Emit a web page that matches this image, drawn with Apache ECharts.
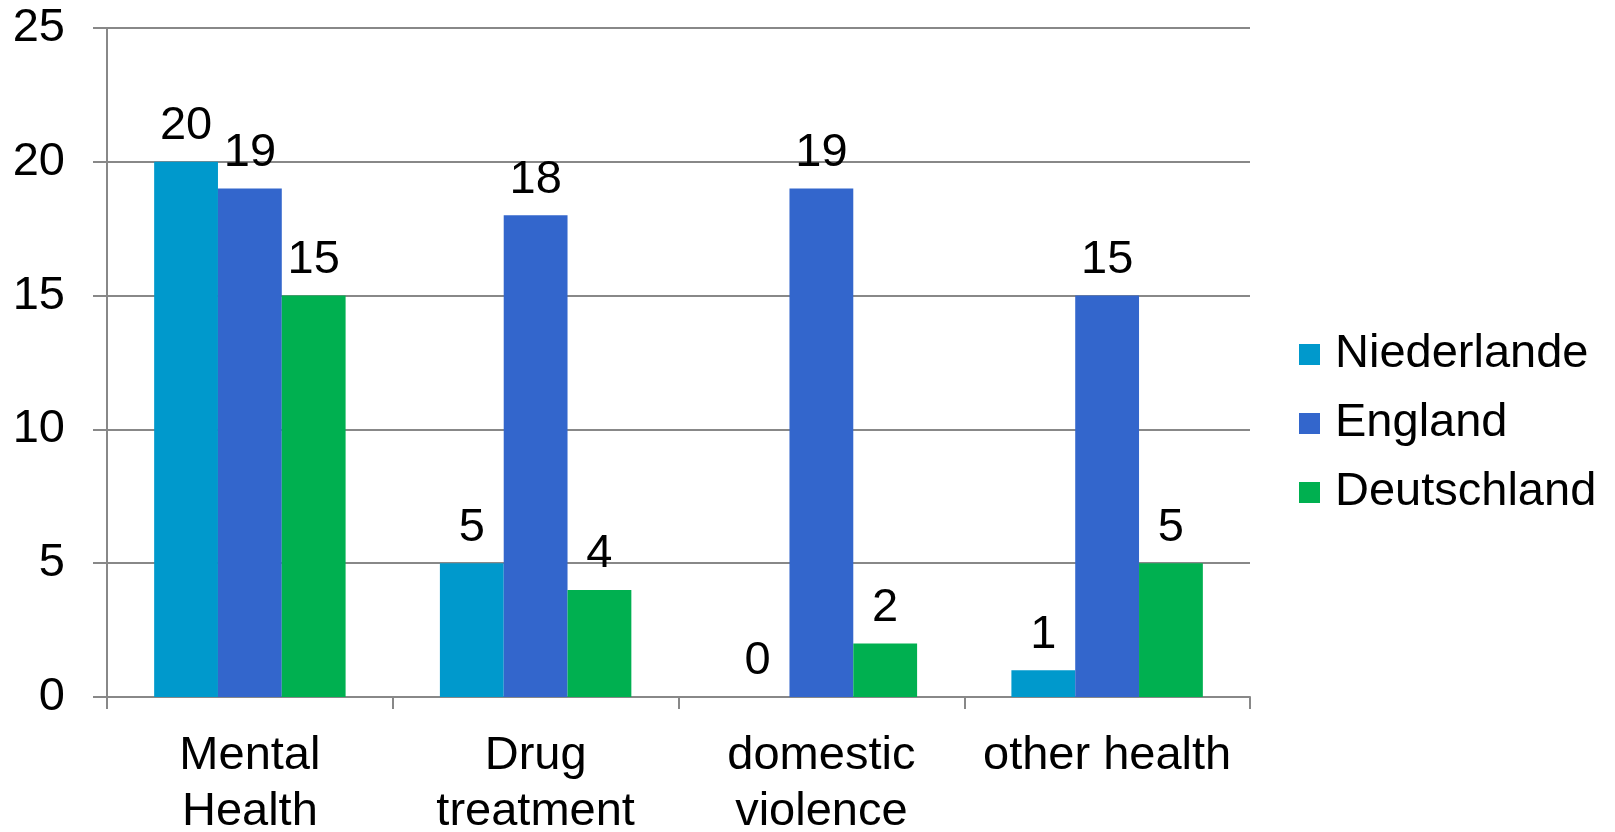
<!DOCTYPE html>
<html>
<head>
<meta charset="utf-8">
<style>
  html, body { margin: 0; padding: 0; background: #fff; }
  #chart { width: 1615px; height: 832px; }
</style>
<script src="https://cdn.jsdelivr.net/npm/echarts@6/dist/echarts.min.js"></script>
</head>
<body>
<div id="chart"></div>
<script>
var categories = ['Mental Health', 'Drug treatment', 'domestic violence', 'other health'];
var seriesNames = ['Niederlande', 'England', 'Deutschland'];
var niederlande = [20, 5, 0, 1];
var england = [19, 18, 19, 15];
var deutschland = [15, 4, 2, 5];
var yTicks = { min: 0, max: 25, interval: 5 };

var colors = ['#0099cc', '#3366cc', '#00b050'];
var font = "'Liberation Sans', Arial, sans-serif";
var gray = '#888888';

// labels wider than a category get wrapped at the space, lines stay centred
var measureCtx = document.createElement('canvas').getContext('2d');
measureCtx.font = '47px ' + font;
function wrapLabel(value) {
    if (measureCtx.measureText(value).width > 270) {
        return value.split(' ').join('\n');
    }
    return value;
}

var chart = echarts.init(document.getElementById('chart'));

function barSeries(name, values, color) {
    return {
        name: name,
        type: 'bar',
        data: values,
        barGap: '0%',
        barCategoryGap: '33%',
        itemStyle: { color: color },
        label: {
            show: true,
            position: 'top',
            distance: 12,
            color: '#000',
            fontFamily: font,
            fontSize: 47
        }
    };
}

var option = {
    animation: false,
    backgroundColor: '#fff',
    grid: { left: 107, right: 365, top: 28, bottom: 135, containLabel: false, outerBoundsMode: 'none' },
    legend: {
        orient: 'vertical',
        left: 1294,
        top: 326,
        icon: 'rect',
        itemWidth: 21,
        itemHeight: 21,
        itemGap: 22,
        textStyle: { fontFamily: font, fontSize: 47, lineHeight: 47, color: '#000', padding: [0, 0, 0, 10] },
        data: seriesNames
    },
    xAxis: {
        type: 'category',
        data: categories,
        axisLine: { show: true, lineStyle: { color: gray, width: 2 } },
        axisTick: { show: true, length: 12, lineStyle: { color: gray, width: 2 } },
        axisLabel: {
            interval: 0,
            margin: 31,
            color: '#000',
            fontFamily: font,
            fontSize: 47,
            lineHeight: 56,
            formatter: wrapLabel
        }
    },
    yAxis: {
        type: 'value',
        min: yTicks.min,
        max: yTicks.max,
        interval: yTicks.interval,
        axisLine: { show: true, lineStyle: { color: gray, width: 2 } },
        axisTick: { show: true, length: 14, lineStyle: { color: gray, width: 2 } },
        splitLine: { show: true, lineStyle: { color: gray, width: 2 } },
        axisLabel: { margin: 42, color: '#000', fontFamily: font, fontSize: 47 }
    },
    series: [
        barSeries(seriesNames[0], niederlande, colors[0]),
        barSeries(seriesNames[1], england, colors[1]),
        barSeries(seriesNames[2], deutschland, colors[2])
    ]
};

chart.setOption(option);
</script>
</body>
</html>
